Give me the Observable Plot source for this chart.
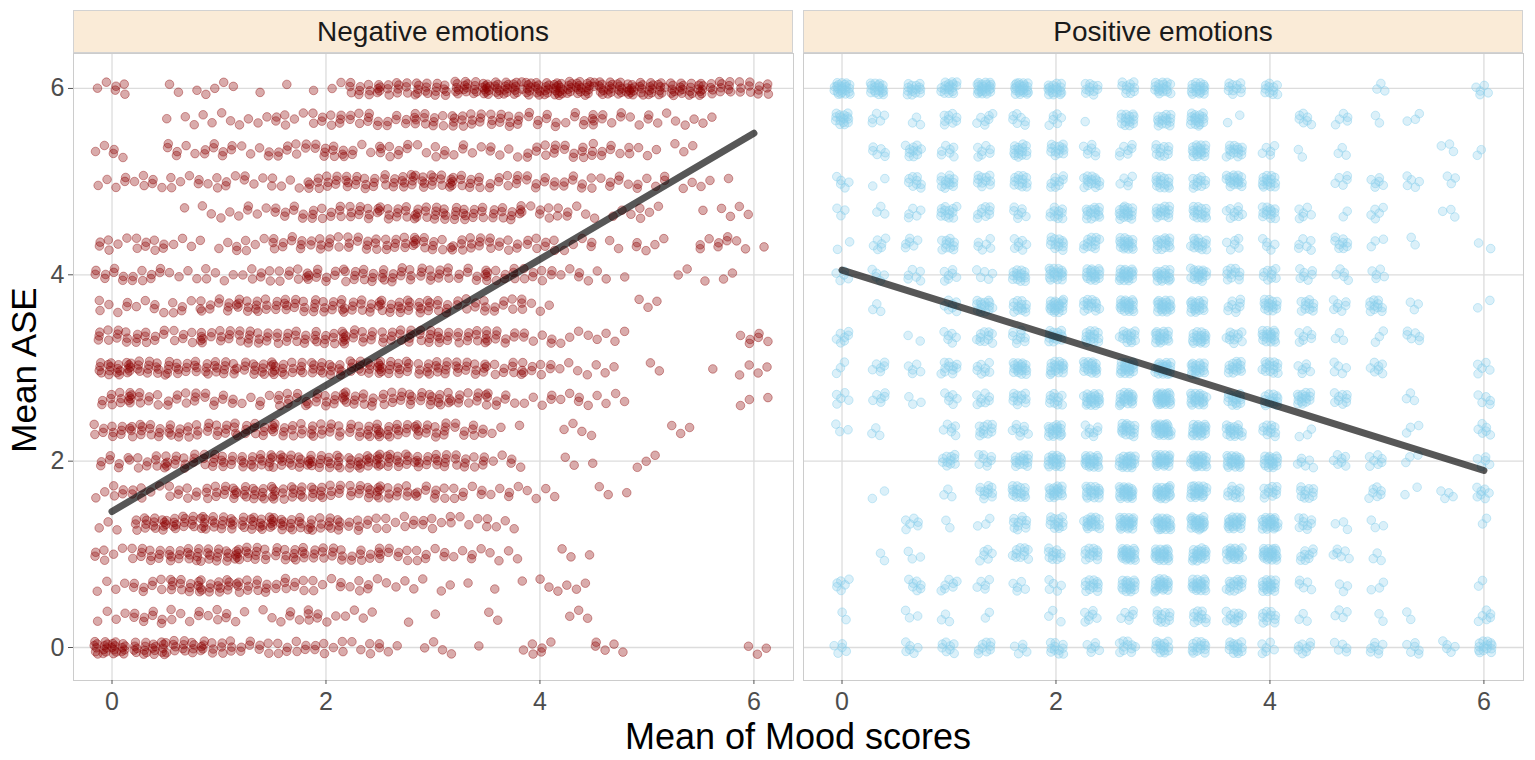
<!DOCTYPE html>
<html><head><meta charset="utf-8">
<script src="https://cdn.jsdelivr.net/npm/d3@7"></script>
<script src="https://cdn.jsdelivr.net/npm/@observablehq/plot@0.6"></script>
<style>
body{margin:0;background:#fff;font-family:"Liberation Sans",Arial,Helvetica,sans-serif;}
#wrap{position:relative;width:1535px;height:760px;overflow:hidden;}
.strip{position:absolute;top:10px;height:43px;background:#FAEBD7;border:1px solid #d2d2d2;box-sizing:border-box;
  display:flex;align-items:center;justify-content:center;font-size:28px;color:#1a1a1a;}
.panel{position:absolute;top:52px;}
.ytitle{position:absolute;left:24px;top:370px;transform:translate(-50%,-50%) rotate(-90deg);font-size:35px;color:#000;white-space:nowrap;}
.xtitle{position:absolute;left:798px;top:737px;transform:translate(-50%,-50%);font-size:36px;color:#000;white-space:nowrap;}
</style></head>
<body><div id="wrap"></div>
<script>
// ---- data ----
const panels = ["Negative emotions", "Positive emotions"];
const levels = [0,1/3,2/3,1,4/3,5/3,2,7/3,8/3,3,10/3,11/3,4,13/3,14/3,5,16/3,17/3,6]; // score levels (x columns, y rows)
const xTicks = [0,2,4,6];
const yTicks = [0,2,4,6];
// counts of responses per cell: rows = ASE level (0..6), columns = mood level (0..6)
const negativeCounts = [
 [26,20,16,12,8,8,7,5,3,3,2,0,6,0,5,0,0,0,3],
 [4,8,6,6,3,5,6,4,1,1,0,2,0,3,0,0,0,0,0],
 [4,8,14,14,12,9,6,6,4,3,1,2,2,4,0,0,0,0,0],
 [6,11,15,16,15,14,12,9,8,7,5,4,0,3,0,0,0,0,0],
 [3,15,17,18,18,17,15,9,7,6,5,4,0,0,0,0,0,0,0],
 [6,6,8,13,15,15,14,14,12,9,7,5,4,0,3,0,0,0,0],
 [7,10,12,14,16,17,18,18,17,15,11,5,0,3,0,3,0,0,0],
 [11,13,13,12,12,12,13,14,14,14,9,3,0,4,0,0,3,0,0],
 [11,10,9,8,5,10,12,13,13,14,11,7,5,5,4,0,0,0,3],
 [18,16,15,15,15,15,16,16,16,15,13,10,8,4,3,2,0,1,4],
 [11,10,8,11,13,12,13,13,13,14,12,9,6,4,4,0,0,0,6],
 [6,5,6,10,13,13,13,13,14,14,9,7,5,0,0,3,0,0,0],
 [8,8,4,5,7,8,10,11,13,12,9,9,8,5,3,0,2,3,0],
 [6,8,4,3,5,10,10,11,12,11,11,9,8,5,2,5,1,6,3],
 [0,0,1,4,5,8,10,11,13,14,14,12,7,5,3,5,0,3,2],
 [5,6,6,6,5,5,11,13,14,15,12,9,8,8,6,5,3,3,0],
 [5,0,6,8,5,8,10,6,8,6,5,5,9,9,7,4,3,0,0],
 [0,0,3,4,4,6,9,9,8,10,13,12,8,7,7,5,4,2,0],
 [6,0,3,4,1,1,3,12,13,16,22,28,30,30,28,25,22,16,12]
];
const positiveCounts = [
 [5,0,6,8,9,5,11,6,11,14,14,14,6,8,5,7,6,5,14],
 [2,0,3,3,2,0,3,7,6,11,11,11,11,3,4,2,2,0,6],
 [6,0,7,7,5,5,5,13,18,21,20,15,18,5,3,3,0,0,2],
 [0,2,3,0,6,11,11,13,23,23,21,21,23,9,6,3,0,0,0],
 [0,0,6,2,3,11,13,18,23,23,23,21,23,9,3,3,0,0,2],
 [0,2,0,3,11,15,18,18,23,23,23,11,11,11,0,7,2,4,7],
 [0,0,0,11,8,15,18,21,23,24,23,21,18,6,7,7,3,0,5],
 [3,3,0,6,11,8,18,8,18,27,21,18,11,3,0,0,3,0,6],
 [5,6,3,6,8,11,11,21,21,27,21,15,15,15,9,0,3,0,5],
 [3,6,5,11,8,18,18,18,21,24,18,15,15,6,5,7,0,0,5],
 [7,0,2,6,11,9,15,15,15,18,18,11,18,7,3,3,6,0,0],
 [0,3,0,7,15,13,21,15,21,21,18,9,15,11,7,11,3,0,2],
 [5,5,6,7,5,15,18,18,21,18,18,11,9,7,5,5,0,0,0],
 [2,6,6,11,6,7,13,13,18,15,15,6,5,6,9,3,2,0,2],
 [3,3,5,13,9,7,11,15,18,15,15,9,13,6,2,5,0,3,0],
 [5,2,9,13,11,13,9,15,5,15,11,18,15,0,5,6,5,3,0],
 [0,6,11,7,7,15,13,7,7,11,18,15,5,2,3,0,0,3,2],
 [15,5,3,9,7,7,6,1,15,15,18,2,0,7,5,2,3,0,0],
 [23,18,15,18,23,23,18,11,11,18,18,11,11,0,0,3,0,0,5]
];
// fitted regression lines (ends at mood 0 and 6)
const fitX = [0, 6];
const negativeFitY = [1.46, 5.52];
const positiveFitY = [4.05, 1.90];
const colors = ["#8B0000", "#87CEEB"];

// ---- build point table: each counted response, spread inside its cell (deterministic jitter) ----
function expand(counts, jx, jy) {
  const out = []; let g = 0;
  counts.forEach((row, r) => row.forEach((n, c) => {
    for (let i = 0; i < n; i++, g++) {
      const u = (0.5 + g * 0.7548776662) % 1, v = (0.5 + g * 0.5698402910) % 1;
      out.push({x: levels[c] + (u - 0.5) * 2 * jx, y: levels[r] + (v - 0.5) * 2 * jy});
    }
  }));
  return out;
}
const negPts = expand(negativeCounts, 0.17, 0.075);
const posPts = expand(positiveCounts, 0.075, 0.07);

const wrap = document.getElementById("wrap");
const xDomain = [-0.36, 6.37];
const yDomain = [-0.354, 6.375];
const font = '"Liberation Sans", Arial, Helvetica, sans-serif';

function panel(pts, fitY, color, fillOp, strokeOp, showY) {
  const ml = showY ? 73 : 1;
  return Plot.plot({
    width: 720 + ml + 1, height: 1 + 627 + 50,
    marginLeft: ml, marginRight: 1, marginTop: 1, marginBottom: 50,
    x: {domain: xDomain, axis: null},
    y: {domain: yDomain, axis: null},
    style: {fontFamily: font, color: "#4d4d4d", background: "transparent", overflow: "visible"},
    marks: [
      Plot.gridX(xTicks, {stroke: "#dcdcdc", strokeOpacity: 1, strokeWidth: 1.3}),
      Plot.gridY(yTicks, {stroke: "#dcdcdc", strokeOpacity: 1, strokeWidth: 1.3}),
      Plot.frame({stroke: "#cccccc", strokeWidth: 1}),
      Plot.dot(pts, {x: "x", y: "y", r: 4.3, fill: color, fillOpacity: fillOp, stroke: color, strokeOpacity: strokeOp, strokeWidth: 1}),
      Plot.line(fitX.map((x, i) => ({x, y: fitY[i]})), {x: "x", y: "y", stroke: "#000", strokeOpacity: 0.66, strokeWidth: 7}),
      Plot.axisX(xTicks, {tickSize: 4, tickPadding: 8, fontSize: 25, stroke: "#555", tickFormat: d => String(d), label: null}),
      showY ? Plot.axisY(yTicks, {tickSize: 5, tickPadding: 4, fontSize: 25, stroke: "#555", tickFormat: d => String(d), label: null}) : null
    ]
  });
}

const left = panel(negPts, negativeFitY, colors[0], 0.33, 0.38, true);
left.classList.add("panel"); left.style.left = "0px";
const right = panel(posPts, positiveFitY, colors[1], 0.3, 0.45, false);
right.classList.add("panel"); right.style.left = "802px";
wrap.appendChild(left); wrap.appendChild(right);

[[73, 720, panels[0]], [803, 720, panels[1]]].forEach(([l, w, t]) => {
  const d = document.createElement("div"); d.className = "strip";
  d.style.left = l + "px"; d.style.width = w + "px"; d.textContent = t; wrap.appendChild(d);
});
const yt = document.createElement("div"); yt.className = "ytitle"; yt.textContent = "Mean ASE"; wrap.appendChild(yt);
const xt = document.createElement("div"); xt.className = "xtitle"; xt.textContent = "Mean of Mood scores"; wrap.appendChild(xt);
</script></body></html>
